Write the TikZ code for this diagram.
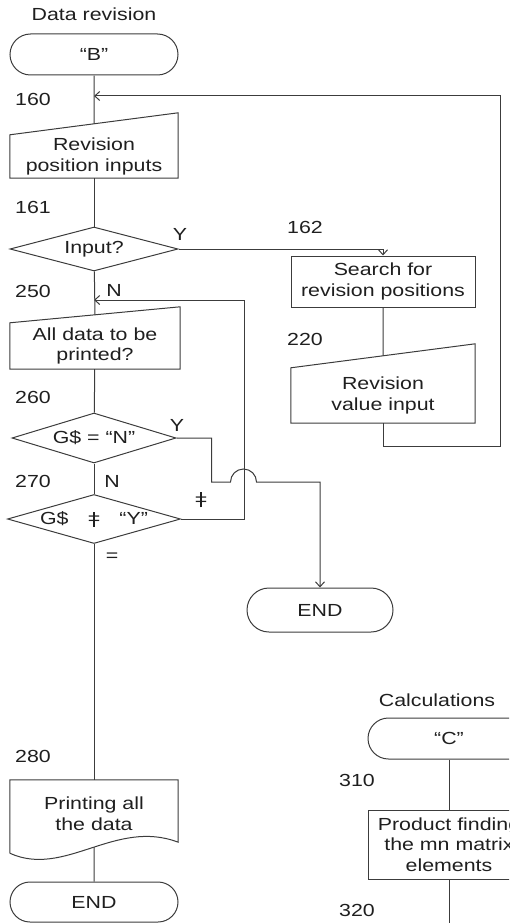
\documentclass[tikz,border=0pt]{standalone}
\usepackage{fontspec}
\setmainfont{Liberation Sans}[FakeStretch=1.22]
\usetikzlibrary{arrows.meta, shapes.geometric, shapes.misc, calc}
\definecolor{flowInk}{HTML}{3C3C3C}
\definecolor{flowText}{HTML}{1F1F1F}
\newcommand{\neqbar}{\ooalign{=\cr\hidewidth\rule[-0.12em]{0.07em}{0.85em}\hidewidth\cr}}

\begin{document}
\begin{tikzpicture}[x=1pt, y=-1pt,
      font=\fontsize{17.5}{20.5}\selectfont, text=flowText,
      term/.style={rounded rectangle, draw=flowInk, line width=1pt,
                   minimum width=168pt, minimum height=41pt, inner sep=0pt},
      proc/.style={rectangle, draw=flowInk, line width=1pt, align=center,
                   inner sep=0pt},
      manin/.style={rectangle, align=center, minimum width=168pt, inner sep=0pt},
      dec/.style={diamond, draw=flowInk, line width=1pt, aspect=3.6, inner sep=0pt},
      num/.style={inner sep=0pt},
      line/.style={draw=flowInk, line width=1pt},
      arrow/.style={line, -{Straight Barb[length=5pt, width=9pt]}}
    ]
    \clip (0,0) rectangle (509,923);

    % left column: data revision
    \node (trev) at (94,14) {Data revision};
    \node[term] (b) at (94,54.5) {``B''};
    \node[manin, minimum height=43pt] (rpi) at (94,156.5) {Revision\\position inputs};
    \draw[line] (rpi.south west) -- (rpi.south east) -- ([yshift=22pt]rpi.north east)
      -- (rpi.north west) -- cycle;
    \node[dec, minimum width=168pt, minimum height=44pt] (inp) at (94,249) {Input?};
    \node[manin, minimum width=170pt, minimum height=46pt] (adp) at (95,346) {All data to be\\printed?};
    \draw[line] (adp.south west) -- (adp.south east) -- ([yshift=16pt]adp.north east)
      -- (adp.north west) -- cycle;
    \node[dec, minimum width=164pt, minimum height=50pt] (geqn) at (94,438) {G\$ = ``N''};
    \node[dec, minimum width=173pt, minimum height=49pt] (gneq) at (94,519)
      {G\$\hspace{1.1em}\neqbar\hspace{1.1em}``Y''};
    \node[manin, minimum height=67pt] (prt) at (94,813.5) {Printing all\\the data};
    \draw[line] ([yshift=-6pt]prt.south west) -- (prt.north west) -- (prt.north east)
      -- ([yshift=5pt]prt.south east)
      .. controls ($(prt.south east)+(-63,-29)$) and ($(prt.south west)+(55,31)$)
      .. ([yshift=-6pt]prt.south west);
    \node[term, minimum height=40pt] (end1) at (94,902) {END};

    % right column
    \node[proc, minimum width=184pt, minimum height=51pt] (srch) at (383,281.5)
      {Search for\\revision positions};
    \node[manin, minimum width=184pt, minimum height=55pt] (rvi) at (383,395.5)
      {Revision\\value input};
    \draw[line] (rvi.south west) -- (rvi.south east) -- ([yshift=24pt]rvi.north east)
      -- (rvi.north west) -- cycle;
    \node[term, minimum width=146pt, minimum height=44pt] (end2) at (320,610) {END};

    % calculations
    \node (tcalc) at (437,700) {Calculations};
    \node[term, minimum width=162pt] (c) at (449,738.5) {``C''};
    \node[proc, minimum width=162pt, minimum height=69pt] (prod) at (449,844.5)
      {Product finding\\the mn matrix\\elements};
    \coordinate (c320) at (449,930);

    % line numbers
    \foreach \n/\x/\y in {160/33/99, 161/33/207, 250/33/291, 260/33/397,
                          270/33/481, 280/33/756, 162/305/227, 220/305/339,
                          310/357/780, 320/357/910}
      \node[num] (n\n) at (\x,\y) {\n};

    % branch marks
    \node (yinp) at (180,234) {Y};
    \node (ninp) at (114,290) {N};
    \node (ygeqn) at (177,425) {Y};
    \node (ngeqn) at (112,481) {N};
    \node (mneq) at (201,502) {\neqbar};
    \node (meq) at (112,557) {=};

    \coordinate (j160) at (94,96);
    \coordinate (j250) at (94,300);

    \draw[line] (b) -- ($(rpi.north west)!.5!([yshift=22pt]rpi.north east)$);
    \draw[line] (rpi) -- (inp);
    \draw[arrow] (inp.east) -| (srch.north);
    \draw[line] (srch) -- ($(rvi.north west)!.5!([yshift=24pt]rvi.north east)$);
    \draw[arrow] (rvi.south) -- ++(0,23) -- ++(117,0) |- (j160);
    \draw[line] (inp) -- ($(adp.north west)!.5!([yshift=16pt]adp.north east)$);
    \draw[line] (adp) -- (geqn);
    \draw[line] (geqn) -- (gneq);
    \draw[arrow] (gneq.east) -- ++(63,0) |- (j250);
    \draw[arrow] (geqn.east) -- ++(35,0) -- ++(0,44) -- ++(19,0)
      arc[start angle=180, end angle=0, radius=13pt] -| (end2.north);
    \draw[line] (gneq) -- (prt);
    \draw[line] (prt) -- (end1);
    \draw[line] (c) -- (prod);
    \draw[line] (prod) -- (c320);
  \end{tikzpicture}
\end{document}
